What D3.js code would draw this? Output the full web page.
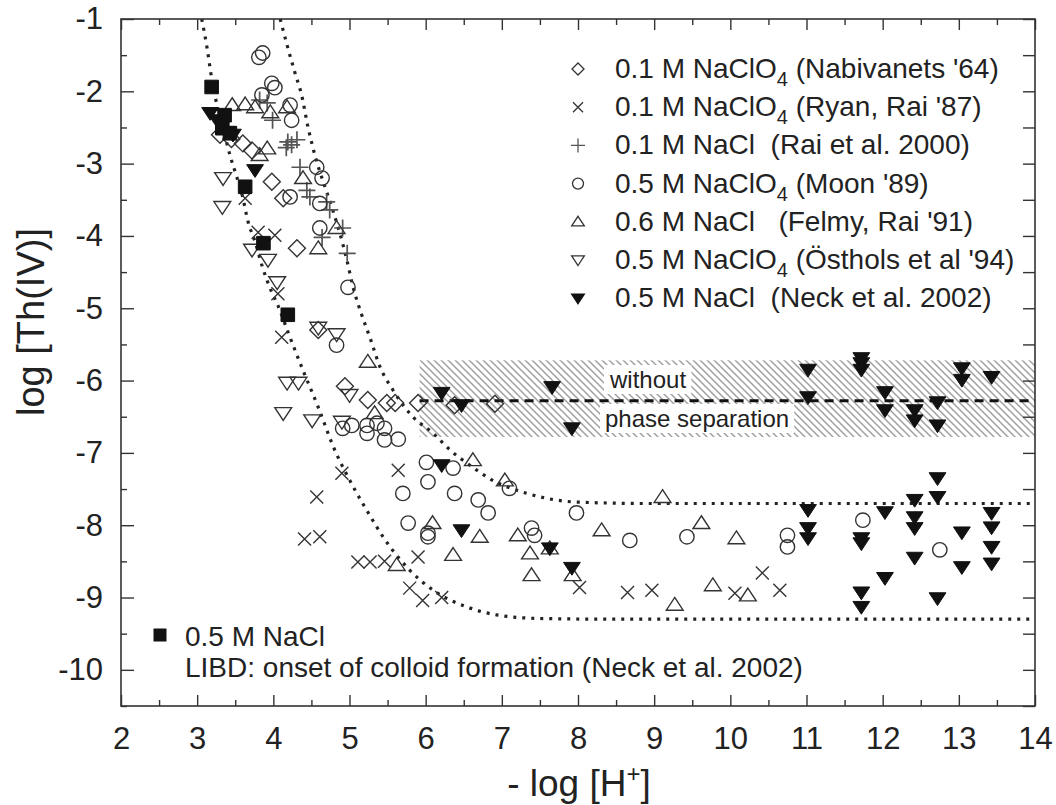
<!DOCTYPE html>
<html>
<head>
<meta charset="utf-8">
<script src="https://cdn.jsdelivr.net/npm/d3@7"></script>
<style>
  body { margin: 0; background: #fff; }
  text { font-family: "Liberation Sans", Arial, sans-serif; fill: #222; }
</style>
</head>
<body>
<script>
// axis ticks
let xTickValues = [2, 3, 4, 5, 6, 7, 8, 9, 10, 11, 12, 13, 14];
let xMinorValues = [2.5, 3.5, 4.5, 5.5, 6.5, 7.5, 8.5, 9.5, 10.5, 11.5, 12.5, 13.5];
let yTickValues = [-1, -2, -3, -4, -5, -6, -7, -8, -9, -10];
let yMinorValues = [-1.5, -2.5, -3.5, -4.5, -5.5, -6.5, -7.5, -8.5, -9.5, -10.5];

// data series [-log H+, log Th(IV)]
let nabivanets = [[3.30,-2.60],[3.45,-2.66],[3.60,-2.72],[3.72,-2.82],[3.98,-3.25],[4.13,-3.48],[4.31,-4.17],
  [4.59,-5.30],[4.94,-6.08],[5.24,-6.27],[5.49,-6.31],[5.60,-6.31],[5.90,-6.31],[6.38,-6.34],[6.91,-6.32]];
let ryanRai = [[3.63,-3.48],[3.80,-3.95],[4.02,-3.99],[4.06,-4.80],[4.11,-5.40],[4.57,-7.61],[4.90,-7.28],[5.64,-7.24],
  [4.41,-8.19],[4.61,-8.16],[5.11,-8.51],[5.27,-8.51],[5.46,-8.50],[5.90,-8.44],[5.79,-8.87],[5.96,-9.04],[6.21,-9.00],
  [8.02,-8.86],[8.65,-8.93],[8.97,-8.90],[10.06,-8.94],[10.42,-8.66],[10.65,-8.90]];
let rai2000 = [[3.82,-2.12],[3.92,-2.16],[3.99,-2.40],[4.19,-2.70],[4.24,-2.74],[4.31,-2.67],[4.17,-2.78],[4.35,-3.05],
  [4.44,-3.37],[4.48,-3.46],[4.70,-3.53],[4.74,-3.64],[4.64,-4.02],[4.91,-3.89],[4.97,-4.24]];
let moon = [[3.81,-1.53],[3.86,-1.47],[3.98,-1.89],[4.02,-1.95],[3.85,-2.05],[4.22,-2.19],[4.24,-2.40],[4.57,-3.05],
  [4.64,-3.20],[4.22,-3.46],[4.61,-3.55],[4.61,-3.89],[4.98,-4.71],[4.83,-5.51],[4.91,-6.66],[5.03,-6.62],[5.23,-6.62],
  [5.23,-6.73],[5.36,-6.59],[5.46,-6.66],[5.46,-6.82],[5.64,-6.81],[6.01,-7.13],[6.36,-7.21],[6.03,-7.40],[5.70,-7.56],
  [6.38,-7.56],[6.69,-7.65],[6.82,-7.83],[7.10,-7.49],[5.77,-7.97],[6.03,-8.11],[6.03,-8.16],[7.98,-7.83],[7.39,-8.04],
  [7.43,-8.14],[8.68,-8.21],[9.43,-8.16],[10.75,-8.14],[10.75,-8.30],[11.74,-7.93],[12.75,-8.34]];
let felmyRai = [[3.46,-2.19],[3.63,-2.18],[3.76,-2.22],[3.96,-2.29],[4.18,-2.22],[3.82,-2.88],[3.92,-2.79],[4.39,-3.20],
  [4.59,-4.17],[4.83,-3.89],[5.24,-5.74],[5.33,-6.45],[6.62,-7.10],[7.04,-7.38],[9.11,-7.61],[6.09,-7.97],[6.36,-8.41],
  [6.71,-8.16],[5.62,-8.55],[7.21,-8.14],[7.37,-8.39],[7.39,-8.69],[7.93,-8.69],[8.31,-8.07],[9.62,-7.97],[10.08,-8.18],
  [9.77,-8.83],[9.27,-9.10],[10.23,-8.97],[7.63,-8.32]];
let osthols = [[3.34,-3.20],[3.33,-3.60],[3.72,-4.19],[3.93,-4.33],[4.05,-4.64],[4.59,-5.27],[4.83,-5.36],[4.18,-6.03],
  [4.33,-6.03],[4.13,-6.45],[4.51,-6.55],[4.90,-6.57],[5.00,-6.20]];
let neck = [[3.17,-2.30],[3.26,-2.40],[3.40,-2.56],[3.47,-2.60],[3.76,-3.09],[6.21,-6.17],[6.47,-6.34],[7.66,-6.09],
  [7.92,-6.66],[6.21,-7.17],[6.47,-8.07],[7.92,-8.59],[7.63,-8.32],
  [11.02,-5.85],[11.02,-6.23],[11.72,-5.69],[11.72,-5.76],[11.72,-5.85],[12.03,-6.16],[12.03,-6.41],[12.42,-6.41],
  [12.42,-6.55],[12.72,-6.30],[12.72,-6.62],[13.04,-5.83],[13.04,-5.99],[13.43,-5.95],
  [12.72,-7.35],[12.72,-7.61],[12.42,-7.65],[11.02,-7.79],[11.02,-8.04],[11.02,-8.18],[11.72,-8.18],[11.72,-8.25],
  [11.72,-8.93],[11.72,-9.13],[12.03,-7.82],[12.03,-8.73],[12.42,-7.89],[12.42,-8.04],[12.42,-8.45],[12.72,-9.01],
  [13.04,-8.10],[13.04,-8.58],[13.43,-7.83],[13.43,-8.03],[13.43,-8.30],[13.43,-8.53]];
let libd = [[3.19,-1.94],[3.36,-2.33],[3.33,-2.51],[3.43,-2.58],[3.63,-3.32],[3.87,-4.10],[4.19,-5.09]];

// model curves and the "without phase separation" level
let curveLow = [[3.06,-1.0],[3.13,-1.40],[3.19,-1.82],[3.26,-2.19],[3.34,-2.51],[3.43,-2.88],[3.50,-3.12],[3.59,-3.43],
  [3.67,-3.81],[3.76,-4.08],[3.86,-4.44],[3.98,-4.78],[4.06,-4.96],[4.20,-5.35],[4.39,-5.86],[4.59,-6.37],[4.79,-6.92],
  [5.05,-7.47],[5.27,-7.87],[5.44,-8.16],[5.79,-8.62],[6.10,-8.90],[6.54,-9.13],[6.93,-9.24],[7.50,-9.29],[8.50,-9.30],[14,-9.30]];
let curveHigh = [[4.09,-1.0],[4.18,-1.36],[4.28,-1.73],[4.38,-2.09],[4.45,-2.47],[4.52,-2.78],[4.77,-3.61],[4.87,-3.95],
  [4.96,-4.31],[5.05,-4.72],[5.16,-5.09],[5.27,-5.41],[5.40,-5.81],[5.57,-6.13],[5.83,-6.50],[6.10,-6.73],[6.32,-6.96],
  [6.58,-7.17],[6.88,-7.38],[7.33,-7.56],[7.98,-7.68],[8.94,-7.70],[14,-7.70]];
let sepLevel = [[5.92,-6.28],[14,-6.28]];
let sepBand = {x0: 5.92, x1: 14, y0: -5.72, y1: -6.78};

let legendLabels = [
  ["0.1 M NaClO", "4", " (Nabivanets '64)"],
  ["0.1 M NaClO", "4", " (Ryan, Rai '87)"],
  ["0.1 M NaCl  (Rai et al. 2000)", "", ""],
  ["0.5 M NaClO", "4", " (Moon '89)"],
  ["0.6 M NaCl   (Felmy, Rai '91)", "", ""],
  ["0.5 M NaClO", "4", " (Östhols et al '94)"],
  ["0.5 M NaCl  (Neck et al. 2002)", "", ""]
];

let svgWidth = 1056, svgHeight = 805;
let margin = {top: 19, right: 21, bottom: 99, left: 121};
let chartWidth = svgWidth - margin.left - margin.right;
let chartHeight = svgHeight - margin.top - margin.bottom;

let svg = d3.select("body").append("svg")
  .attr("width", svgWidth).attr("height", svgHeight);

let defs = svg.append("defs");
let hatch = defs.append("pattern").attr("id", "hatch")
  .attr("patternUnits", "userSpaceOnUse").attr("width", 7).attr("height", 7);
hatch.append("path").attr("d", "M0,0L7,7M-1,6L1,8M6,-1L8,1")
  .attr("stroke", "#a0a0a0").attr("stroke-width", 1.5);

let chartGroup = svg.append("g").attr("transform", `translate(${margin.left}, ${margin.top})`);

let x = d3.scaleLinear().domain([2, 14]).range([0, chartWidth]);
let y = d3.scaleLinear().domain([-10.5, -1]).range([chartHeight, 0]);

// shaded band
chartGroup.append("rect")
  .attr("x", x(sepBand.x0)).attr("y", y(sepBand.y0))
  .attr("width", x(sepBand.x1) - x(sepBand.x0)).attr("height", y(sepBand.y1) - y(sepBand.y0))
  .attr("fill", "url(#hatch)");

function bandLabel(str, px, py) {
  let t = chartGroup.append("text").attr("x", px).attr("y", py)
    .style("font-size", "24px").text(str);
  let b = t.node().getBBox();
  chartGroup.insert("rect", "text")
    .attr("x", b.x - 5).attr("y", b.y - 1).attr("width", b.width + 10).attr("height", b.height + 2)
    .attr("fill", "#fff");
}
bandLabel("without", 610 - margin.left, 388 - margin.top);
bandLabel("phase separation", 605 - margin.left, 427 - margin.top);

let line = d3.line().x(d => x(d[0])).y(d => y(d[1])).curve(d3.curveMonotoneX);

chartGroup.append("path").attr("d", line(sepLevel))
  .attr("fill", "none").attr("stroke", "#111").attr("stroke-width", 3).attr("stroke-dasharray", "9,6");

[curveLow, curveHigh].forEach(c => {
  chartGroup.append("path").attr("d", line(c))
    .attr("fill", "none").attr("stroke", "#222").attr("stroke-width", 3.2)
    .attr("stroke-dasharray", "3,6").attr("stroke-linecap", "butt");
});

// marker shapes
let shapes = {
  diamond: r => `M0,${-r}L${r},0L0,${r}L${-r},0Z`,
  cross: r => `M${-r},${-r}L${r},${r}M${-r},${r}L${r},${-r}`,
  plus: r => `M${-r},0H${r}M0,${-r}V${r}`,
  circle: r => `M${r},0A${r},${r} 0 1,1 ${-r},0A${r},${r} 0 1,1 ${r},0Z`,
  up: r => `M0,${-r}L${r * 1.15},${r * 0.75}L${-r * 1.15},${r * 0.75}Z`,
  down: r => `M0,${r}L${r * 1.15},${-r * 0.75}L${-r * 1.15},${-r * 0.75}Z`,
  square: r => `M${-r},${-r}H${r}V${r}H${-r}Z`
};

let series = [
  {data: nabivanets, shape: "diamond", r: 8.5, fill: "none", stroke: "#333", sw: 1.4},
  {data: ryanRai, shape: "cross", r: 6.5, fill: "none", stroke: "#333", sw: 1.4},
  {data: rai2000, shape: "plus", r: 8.5, fill: "none", stroke: "#555", sw: 1.7},
  {data: moon, shape: "circle", r: 7.2, fill: "none", stroke: "#333", sw: 1.4},
  {data: felmyRai, shape: "up", r: 7.3, fill: "none", stroke: "#333", sw: 1.4},
  {data: osthols, shape: "down", r: 7.3, fill: "none", stroke: "#333", sw: 1.4},
  {data: neck, shape: "down", r: 7.3, fill: "#111", stroke: "#111", sw: 1},
  {data: libd, shape: "square", r: 6.8, fill: "#111", stroke: "#111", sw: 1}
];

series.forEach(s => {
  chartGroup.append("g").selectAll("path").data(s.data).enter().append("path")
    .attr("transform", d => `translate(${x(d[0])},${y(d[1])})`)
    .attr("d", shapes[s.shape](s.r))
    .attr("fill", s.fill).attr("stroke", s.stroke).attr("stroke-width", s.sw);
});

// axes, ticks pointing inward
let fmt = d => String(d);
let bottomAxis = d3.axisBottom(x).tickValues(xTickValues).tickSize(-11).tickPadding(21).tickFormat(fmt);
let bottomMinor = d3.axisBottom(x).tickValues(xMinorValues).tickSize(-6).tickFormat("");
let topAxis = d3.axisTop(x).tickValues(xTickValues).tickSize(-11).tickFormat("");
let topMinor = d3.axisTop(x).tickValues(xMinorValues).tickSize(-6).tickFormat("");
let leftAxis = d3.axisLeft(y).tickValues(yTickValues).tickSize(-13).tickPadding(18).tickFormat(fmt);
let leftMinor = d3.axisLeft(y).tickValues(yMinorValues).tickSize(-6).tickFormat("");
let rightAxis = d3.axisRight(y).tickValues(yTickValues.concat(yMinorValues)).tickSize(-12).tickFormat("");

[[bottomAxis, chartHeight, 0], [bottomMinor, chartHeight, 0], [topAxis, 0, 0], [topMinor, 0, 0],
 [leftAxis, 0, 0], [leftMinor, 0, 0], [rightAxis, 0, chartWidth]].forEach(a => {
  let g = chartGroup.append("g").attr("transform", `translate(${a[2]}, ${a[1]})`).call(a[0]);
  g.select(".domain").remove();
  g.selectAll("line").attr("stroke", "#333").attr("stroke-width", 1.4);
  g.selectAll("text").style("font-size", "31px").style("font-family", "'Liberation Sans', Arial, sans-serif").attr("fill", "#222");
});

chartGroup.append("rect").attr("width", chartWidth).attr("height", chartHeight)
  .attr("fill", "none").attr("stroke", "#333").attr("stroke-width", 1.6);

// axis titles
let xTitle = svg.append("text").attr("x", 579).attr("y", 796)
  .attr("text-anchor", "middle").style("font-size", "37px");
xTitle.append("tspan").text("- log [H");
xTitle.append("tspan").attr("dy", -14).style("font-size", "24px").text("+");
xTitle.append("tspan").attr("dy", 14).text("]");

svg.append("text").attr("transform", "translate(44, 322) rotate(-90)")
  .attr("text-anchor", "middle").style("font-size", "38px").text("log [Th(IV)]");

// legend
let legendShapes = [
  {shape: "diamond", r: 6, fill: "none", stroke: "#333"},
  {shape: "cross", r: 5, fill: "none", stroke: "#333"},
  {shape: "plus", r: 7, fill: "none", stroke: "#555"},
  {shape: "circle", r: 5.5, fill: "none", stroke: "#333"},
  {shape: "up", r: 5.5, fill: "none", stroke: "#333"},
  {shape: "down", r: 5.5, fill: "none", stroke: "#333"},
  {shape: "down", r: 5.5, fill: "#111", stroke: "#111"}
];
let legend = svg.append("g");
legendLabels.forEach((lab, i) => {
  let by = 78 + i * 38.2;
  let ls = legendShapes[i];
  legend.append("path").attr("transform", `translate(578, ${by - 9})`)
    .attr("d", shapes[ls.shape](ls.r)).attr("fill", ls.fill).attr("stroke", ls.stroke).attr("stroke-width", 1.3);
  let t = legend.append("text").attr("x", 615).attr("y", by).style("font-size", "28px").style("white-space", "pre");
  t.append("tspan").text(lab[0]);
  if (lab[1]) {
    t.append("tspan").attr("dy", 8).style("font-size", "20px").text(lab[1]);
    t.append("tspan").attr("dy", -8).text(lab[2]);
  }
});

legend.append("path").attr("transform", "translate(160, 635)")
  .attr("d", shapes.square(6.5)).attr("fill", "#111");
legend.append("text").attr("x", 185).attr("y", 646).style("font-size", "28px").text("0.5 M NaCl");
legend.append("text").attr("x", 185).attr("y", 677).style("font-size", "28px")
  .text("LIBD: onset of colloid formation (Neck et al. 2002)");
</script>
</body>
</html>
